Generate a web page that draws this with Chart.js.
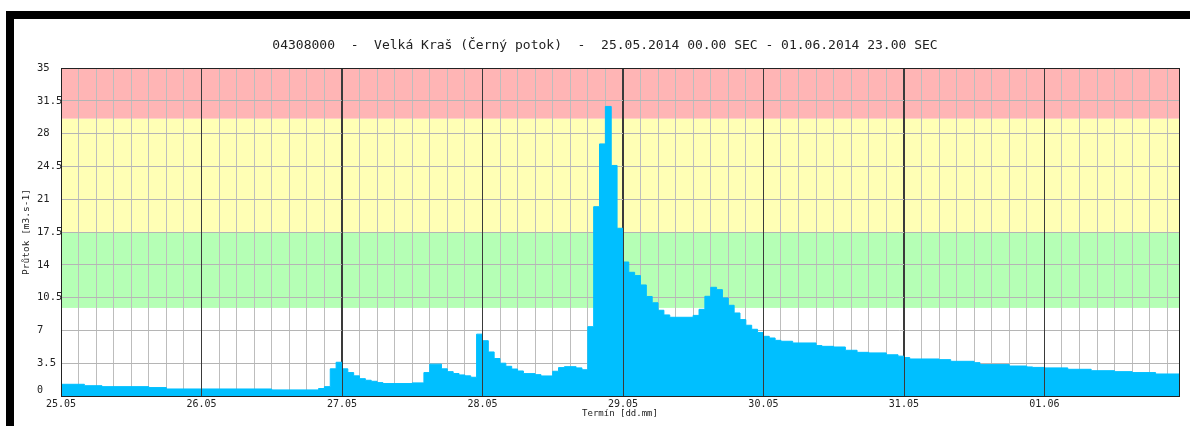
<!DOCTYPE html>
<html>
<head>
<meta charset="utf-8">
<script src="https://cdn.jsdelivr.net/npm/chart.js@4.4.1/dist/chart.umd.min.js"></script>
<style>
  html, body { margin: 0; padding: 0; background: #fff; }
  #c { display: block; }
</style>
</head>
<body>
<canvas id="c" width="1190" height="426"></canvas>
<script>
const chartTitle = "04308000  -  Velká Kraš (Černý potok)  -  25.05.2014 00.00 SEC - 01.06.2014 23.00 SEC";
const dayLabels = ["25.05", "26.05", "27.05", "28.05", "29.05", "30.05", "31.05", "01.06"];

// hour since 25.05 00:00 where the flow changes, and the flow from that hour on
const stepHours = [0, 4, 7, 15, 18, 36, 44, 45, 46, 47, 48, 49, 50, 51, 52, 53, 54, 55, 60, 62,
  63, 65, 66, 67, 68, 69, 70, 71, 72, 73, 74, 75, 76, 77, 78, 79, 81, 82, 84, 85,
  86, 88, 89, 90, 91, 92, 93, 94, 95, 96, 97, 98, 99, 100, 101, 102, 103, 104, 108, 109,
  110, 111, 112, 113, 114, 115, 116, 117, 118, 119, 120, 121, 122, 123, 125, 129, 130, 132, 134, 136,
  138, 141, 143, 144, 145, 150, 152, 156, 157, 162, 165, 166, 168, 172, 176, 180, 183, 187, 191];
const stepFlows = [1.25, 1.1, 1.0, 0.9, 0.75, 0.65, 0.8, 1.0, 2.9, 3.6, 2.9, 2.5, 2.15, 1.85, 1.68, 1.57, 1.43, 1.33, 1.4, 2.5,
  3.4, 2.9, 2.6, 2.4, 2.25, 2.15, 2.0, 6.6, 5.9, 4.7, 4.0, 3.5, 3.17, 2.88, 2.67, 2.39, 2.28, 2.14, 2.64, 3.03,
  3.13, 3.0, 2.8, 7.4, 20.2, 26.9, 30.9, 24.6, 17.9, 14.3, 13.2, 12.85, 11.85, 10.62, 9.95, 9.15, 8.65, 8.4, 8.6, 9.25,
  10.64, 11.6, 11.35, 10.46, 9.68, 8.86, 8.15, 7.55, 7.12, 6.77, 6.37, 6.19, 5.94, 5.84, 5.66, 5.38, 5.3, 5.23, 4.88, 4.66,
  4.6, 4.4, 4.25, 4.1, 3.95, 3.88, 3.7, 3.56, 3.35, 3.2, 3.1, 3.05, 3.0, 2.85, 2.7, 2.6, 2.5, 2.35, 2.35];

// flood level bands: [from, to, colour]
const bandLimits = [9.4, 17.5, 29.6, 35];
const bandColors = ["#b5ffb5", "#ffffb5", "#ffb5b5"];

const mono = "'DejaVu Sans Mono', 'Liberation Mono', monospace";

const points = stepHours.map((h, i) => ({ x: h, y: stepFlows[i] }));

const hydroPlugin = {
  id: "hydro",
  beforeDraw(chart) {
    const { ctx, chartArea: a, scales: { y } } = chart;
    ctx.save();
    ctx.fillStyle = "#fff";
    ctx.fillRect(0, 0, chart.width, chart.height);
    // black frame of the original picture
    ctx.fillStyle = "#000";
    ctx.fillRect(6, 11, chart.width - 6, 8);
    ctx.fillRect(6, 11, 8, chart.height - 11);
    for (let i = 0; i < bandColors.length; i++) {
      const top = y.getPixelForValue(bandLimits[i + 1]);
      const bot = y.getPixelForValue(bandLimits[i]);
      ctx.fillStyle = bandColors[i];
      ctx.fillRect(a.left, top, a.right - a.left, bot - top);
    }
    ctx.restore();
  },
  afterDatasetsDraw(chart) {
    const { ctx, chartArea: a, scales: { x } } = chart;
    ctx.save();
    ctx.strokeStyle = "#3a3a3a";
    ctx.lineWidth = 1;
    x.ticks.forEach((t) => {
      if (t.value % 24 !== 0) return;
      const px = Math.round(x.getPixelForValue(t.value)) + 0.5;
      ctx.beginPath();
      ctx.moveTo(px, a.top);
      ctx.lineTo(px, a.bottom);
      ctx.stroke();
    });
    ctx.strokeStyle = "#222";
    ctx.strokeRect(Math.round(a.left) + 0.5, Math.round(a.top) + 0.5, Math.round(a.right - a.left), Math.round(a.bottom - a.top));
    ctx.restore();
  },
  afterDraw(chart) {
    const { ctx } = chart;
    ctx.save();
    ctx.fillStyle = "#222";
    ctx.font = "13px " + mono;
    ctx.textAlign = "center";
    ctx.textBaseline = "middle";
    ctx.fillText(chartTitle, 605, 46);
    ctx.font = "10px " + mono;
    ctx.textAlign = "left";
    ctx.fillText("0", 37, 390);
    ctx.restore();
  },
};

new Chart(document.getElementById("c"), {
  type: "line",
  data: {
    datasets: [
      {
        data: points,
        stepped: "before",
        fill: "origin",
        backgroundColor: "#00bfff",
        borderColor: "#00bfff",
        borderWidth: 1,
        pointRadius: 0,
      },
    ],
  },
  options: {
    responsive: false,
    devicePixelRatio: 1,
    animation: false,
    layout: { padding: { left: 37, top: 68, right: 11, bottom: 0 } },
    plugins: {
      legend: { display: false },
      tooltip: { enabled: false },
    },
    scales: {
      x: {
        type: "linear",
        min: 0,
        max: 191,
        afterFit: (s) => { s.height = 30; },
        ticks: {
          stepSize: 3,
          includeBounds: false,
          autoSkip: false,
          maxRotation: 0,
          padding: 2,
          color: "#222",
          font: { family: mono, size: 10 },
          callback: (v) => (v % 24 === 0 ? dayLabels[v / 24] : ""),
        },
        grid: {
          drawTicks: false,
          color: (c) => (c.tick && c.tick.value % 24 === 0 ? "#3a3a3a" : "#bdbdbd"),
        },
        border: { display: true, color: "#222" },
        title: {
          display: true,
          text: "Termín [dd.mm]",
          color: "#222",
          font: { family: mono, size: 9 },
          padding: { top: 0, bottom: 7 },
        },
      },
      y: {
        min: 0,
        max: 35,
        afterFit: (s) => { s.width = 24; },
        ticks: {
          stepSize: 3.5,
          crossAlign: "far",
          color: "#222",
          font: { family: mono, size: 10.5 },
          callback: (v) => (v === 0 ? "" : String(v)),
        },
        grid: { drawTicks: false, color: "#b5b5b5" },
        border: { display: true, color: "#222" },
        title: {
          display: true,
          text: "Průtok [m3.s-1]",
          color: "#222",
          font: { family: mono, size: 9.5 },
          padding: { top: -16, bottom: 0 },
        },
      },
    },
  },
  plugins: [hydroPlugin],
});
</script>
</body>
</html>
